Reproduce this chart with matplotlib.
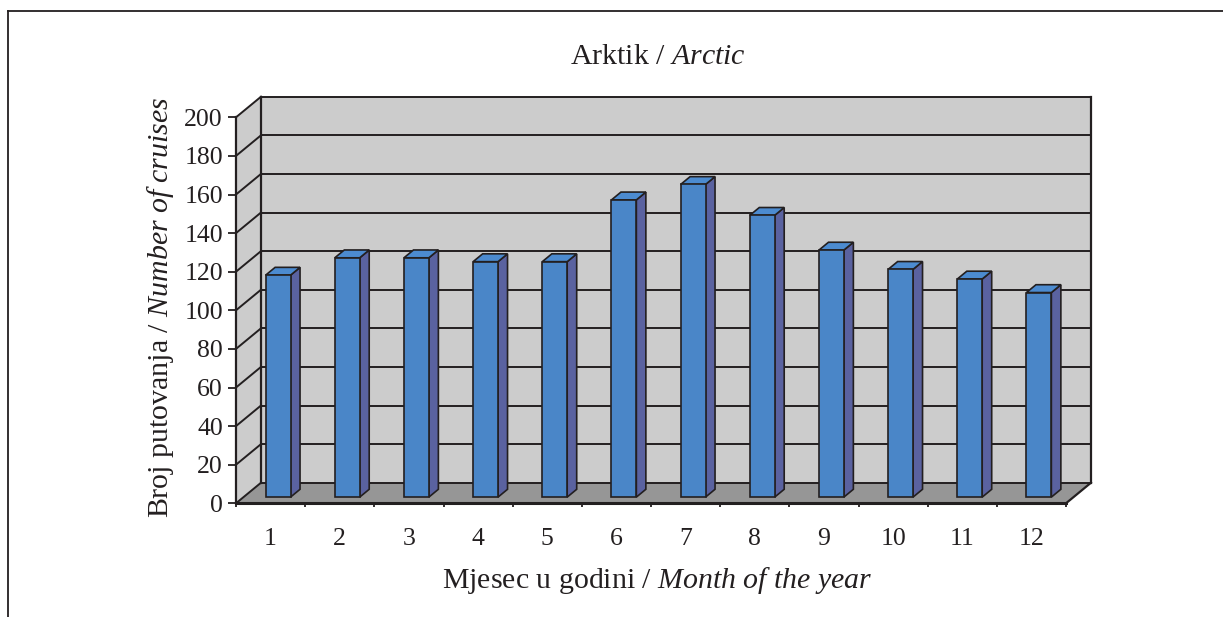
import matplotlib
matplotlib.use("Agg")
import matplotlib.pyplot as plt
from matplotlib.patches import Polygon
from matplotlib.lines import Line2D

# ---- data ----
months = ["1", "2", "3", "4", "5", "6", "7", "8", "9", "10", "11", "12"]
cruises = [115, 124, 124, 122, 122, 154, 162, 146, 128, 118, 113, 106]
yticks = [0, 20, 40, 60, 80, 100, 120, 140, 160, 180, 200]
title_txt = r"Arktik / $\mathit{Arctic}$"
xlabel_txt = r"Mjesec u godini / $\mathit{Month\ of\ the\ year}$"
ylabel_txt = r"Broj putovanja / $\mathit{Number\ of\ cruises}$"

plt.rcParams["font.family"] = ["Liberation Serif", "DejaVu Serif"]
plt.rcParams["mathtext.fontset"] = "custom"
plt.rcParams["mathtext.rm"] = "Liberation Serif"
plt.rcParams["mathtext.it"] = "Liberation Serif:italic"

W, H = 1223, 617
fig = plt.figure(figsize=(W / 100, H / 100), dpi=100)

# front plane of the 3D box in pixels
x0p, x1p = 236, 1066
y0p, y1p = 503.3, 117.3
ax = fig.add_axes([x0p / W, 1 - y0p / H, (x1p - x0p) / W, (y0p - y1p) / H])
n = len(cruises)
ymax = 200
ax.set_xlim(0, n)
ax.set_ylim(0, ymax)
ax.patch.set_visible(False)

# oblique depth offset (full depth) in data units
DXD = 25 / ((x1p - x0p) / n)
DYD = 20.6 / ((y0p - y1p) / ymax)


def P(x, y, d):
    return (x + d * DXD, y + d * DYD)


EC = "#231f20"
WALL = "#cccccc"
FLOOR = "#969696"

# walls and floor
back = Polygon([P(0, 0, 1), P(n, 0, 1), P(n, ymax, 1), P(0, ymax, 1)],
               closed=True, fc=WALL, ec="none", zorder=1, clip_on=False)
side = Polygon([P(0, 0, 0), P(0, 0, 1), P(0, ymax, 1), P(0, ymax, 0)],
               closed=True, fc=WALL, ec="none", zorder=1, clip_on=False)
floor = Polygon([P(0, 0, 0), P(n, 0, 0), P(n, 0, 1), P(0, 0, 1)],
                closed=True, fc=FLOOR, ec="none", zorder=1, clip_on=False)
for p in (back, side, floor):
    ax.add_patch(p)

# gridlines on back and side wall
for v in yticks:
    lw = 1.4
    a, b = P(0, v, 1), P(n, v, 1)
    ax.add_line(Line2D([a[0], b[0]], [a[1], b[1]], color=EC, lw=lw, zorder=2, clip_on=False))
    a, b = P(0, v, 0), P(0, v, 1)
    ax.add_line(Line2D([a[0], b[0]], [a[1], b[1]], color=EC, lw=lw, zorder=2, clip_on=False))

# wall edges
for (pa, pb) in [((0, 0, 1), (0, ymax, 1)), ((n, 0, 1), (n, ymax, 1)),
                 ((n, 0, 0), (n, 0, 1))]:
    a, b = P(*pa), P(*pb)
    ax.add_line(Line2D([a[0], b[0]], [a[1], b[1]], color=EC, lw=1.6, zorder=2, clip_on=False))

# bars
bw = 0.36
d0, d1 = 0.30, 0.68
FRONT = "#4a86c8"
SIDEC = "#5a62a0"
TOP = "#4c8bd0"
for i, v in enumerate(cruises):
    c = i + 0.5
    l, r = c - bw / 2, c + bw / 2
    front = Polygon([P(l, 0, d0), P(r, 0, d0), P(r, v, d0), P(l, v, d0)],
                    closed=True, fc=FRONT, ec=EC, lw=1.2, zorder=5, clip_on=False)
    sidep = Polygon([P(r, 0, d0), P(r, 0, d1), P(r, v, d1), P(r, v, d0)],
                    closed=True, fc=SIDEC, ec=EC, lw=1.2, zorder=4, clip_on=False)
    topp = Polygon([P(l, v, d0), P(r, v, d0), P(r, v, d1), P(l, v, d1)],
                   closed=True, fc=TOP, ec=EC, lw=1.2, zorder=4, clip_on=False)
    for p in (sidep, topp, front):
        ax.add_patch(p)

# axes: front spines and ticks
for s in ("top", "right"):
    ax.spines[s].set_visible(False)
ax.spines["left"].set_color(EC)
ax.spines["left"].set_linewidth(1.6)
ax.spines["bottom"].set_color(EC)
ax.spines["bottom"].set_linewidth(2.2)
ax.spines["left"].set_zorder(6)
ax.spines["bottom"].set_zorder(6)

ax.set_yticks(yticks)
ax.set_yticklabels([str(t) for t in yticks], fontsize=18.5, color=EC)
ax.tick_params(axis="y", direction="out", length=5.5, width=1.3, color=EC, pad=4)

ax.set_xticks(range(n + 1))
ax.set_xticklabels([""] * (n + 1))
ax.tick_params(axis="x", which="major", direction="out", length=3, width=1.3, color=EC)
ax.set_xticks([i + 0.5 for i in range(n)], minor=True)
ax.set_xticklabels(months, minor=True, fontsize=18.5, color=EC)
ax.tick_params(axis="x", which="minor", length=0, pad=18)

# titles
fig.text(658 / W, 1 - 57 / H, title_txt, ha="center", va="center", fontsize=21.5, color=EC)
fig.text(657 / W, 1 - 580 / H, xlabel_txt, ha="center", va="center", fontsize=21.5, color=EC)
fig.text(160 / W, 1 - 307 / H, ylabel_txt, ha="center", va="center", fontsize=21.5,
         rotation=90, color=EC)

# outer frame (top and left only)
fig.add_artist(Line2D([8 / W, 1], [1 - 11 / H, 1 - 11 / H], transform=fig.transFigure,
                      color=EC, lw=1.3))
fig.add_artist(Line2D([8 / W, 8 / W], [1 - 11 / H, 0], transform=fig.transFigure,
                      color=EC, lw=1.3))

fig.savefig("out.png", dpi=100)
